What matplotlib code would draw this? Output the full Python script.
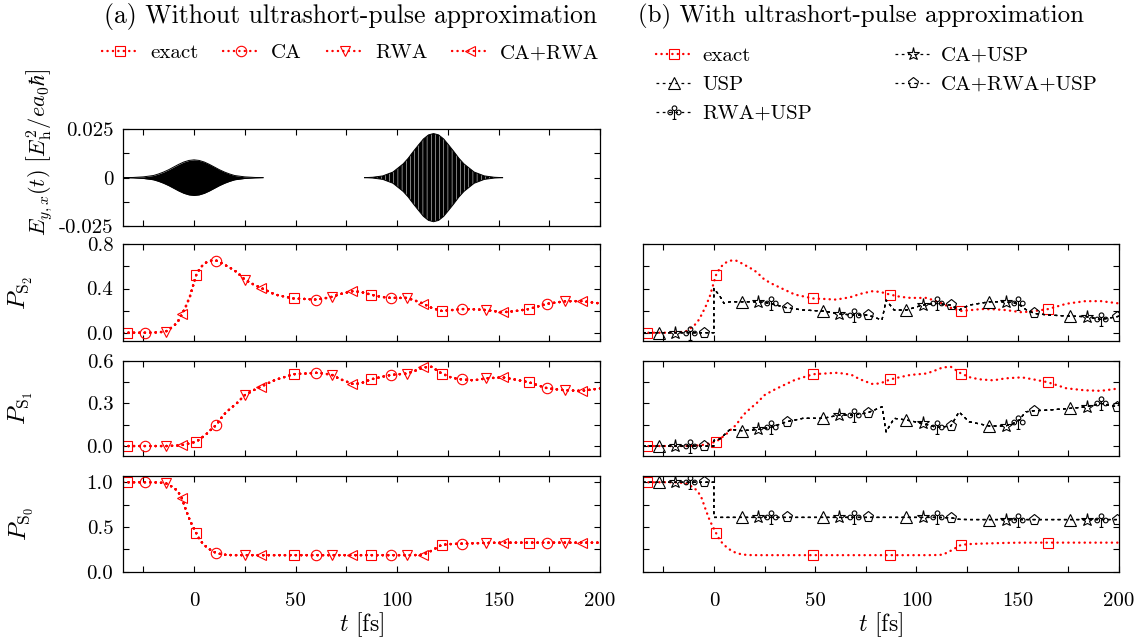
import numpy as np
import matplotlib
matplotlib.use('Agg')
import matplotlib.pyplot as plt
from matplotlib.path import Path

plt.rcParams['font.family'] = 'serif'
plt.rcParams['font.serif'] = ['cmr10']
plt.rcParams['mathtext.fontset'] = 'cm'
plt.rcParams['axes.unicode_minus'] = False
plt.rcParams['hatch.linewidth'] = 0.35

# ---- field envelopes ----
t_p1 = [-35, -30, -25, -20, -17.5, -15, -12.5, -10, -7.5, -5, -2.5, 0,
        2.5, 5, 7.5, 10, 12.5, 15, 17.5, 20, 25, 30, 34]
env_p1 = [0.0, 0.0001, 0.0004, 0.0011, 0.0019, 0.0029, 0.0041, 0.0055, 0.0069,
          0.0081, 0.0089, 0.0092, 0.0089, 0.0081, 0.0069, 0.0055, 0.0041,
          0.0029, 0.0019, 0.0011, 0.0004, 0.0001, 0.0]
t_p2 = [84, 88, 93, 98, 103, 105.5, 108, 110.5, 113, 115.5, 118, 120.5, 123,
        125.5, 128, 130.5, 133, 138, 143, 148, 152]
env_p2 = [0.0, 0.0002, 0.0009, 0.0029, 0.0071, 0.0100, 0.0135, 0.0168, 0.0200,
          0.0221, 0.0228, 0.0221, 0.0200, 0.0168, 0.0135, 0.0100, 0.0071,
          0.0029, 0.0009, 0.0002, 0.0]

# ---- exact populations ----
t_ex = [-35, -33, -24, -18, -14, -10, -8, -6, -4, -2, 1, 3, 5, 7, 9, 11, 13, 15,
        18, 21, 25, 29, 33, 40, 49, 55, 60, 64, 68, 72, 78, 82, 87, 92, 97, 101,
        105, 109, 113, 117, 122, 127, 132, 138, 144, 152, 158, 165, 174, 183,
        191, 200]
ex_S2 = [0.0, 0.0, 0.0, 0.003, 0.01, 0.06, 0.10, 0.165, 0.24, 0.33, 0.52, 0.585,
         0.625, 0.645, 0.655, 0.652, 0.635, 0.615, 0.585, 0.55, 0.48, 0.44,
         0.405, 0.345, 0.31, 0.305, 0.30, 0.31, 0.325, 0.35, 0.375, 0.37, 0.345,
         0.325, 0.315, 0.315, 0.315, 0.29, 0.262, 0.225, 0.197, 0.205, 0.214,
         0.212, 0.205, 0.185, 0.195, 0.214, 0.262, 0.285, 0.286, 0.265]
ex_S1 = [0.0, 0.0, 0.0, 0.0, 0.0, 0.002, 0.004, 0.007, 0.012, 0.02, 0.03, 0.05,
         0.072, 0.095, 0.125, 0.148, 0.19, 0.225, 0.265, 0.30, 0.358, 0.39,
         0.418, 0.465, 0.505, 0.51, 0.515, 0.51, 0.50, 0.47, 0.437, 0.44, 0.468,
         0.485, 0.50, 0.505, 0.51, 0.53, 0.553, 0.557, 0.51, 0.48, 0.468, 0.462,
         0.476, 0.483, 0.468, 0.448, 0.406, 0.392, 0.388, 0.405]
ex_S0 = [1.0, 1.0, 1.0, 0.998, 0.99, 0.94, 0.90, 0.82, 0.69, 0.57, 0.435, 0.35,
         0.30, 0.26, 0.23, 0.21, 0.198, 0.19, 0.186, 0.185, 0.185, 0.185, 0.185,
         0.185, 0.185, 0.185, 0.185, 0.185, 0.185, 0.185, 0.185, 0.185, 0.185,
         0.185, 0.185, 0.185, 0.185, 0.186, 0.19, 0.235, 0.30, 0.31, 0.314,
         0.318, 0.322, 0.325, 0.325, 0.325, 0.325, 0.325, 0.325, 0.325]

# ---- ultrashort-pulse approximation populations ----
t_usp = [-35, -27, -19, -12, -5, 0, 0, 3, 5, 8, 14, 22, 28, 36, 44, 54, 62, 69,
         76, 83, 85, 89, 95, 103, 110, 117, 121, 126, 136, 144, 150, 154, 158,
         165, 176, 184, 191, 199, 200]
usp_S2 = [0, 0, 0, 0, 0, 0, 0.40, 0.33, 0.265, 0.28, 0.28, 0.28, 0.265, 0.225,
          0.205, 0.196, 0.17, 0.16, 0.16, 0.115, 0.295, 0.205, 0.205, 0.25,
          0.265, 0.25, 0.205, 0.25, 0.28, 0.28, 0.265, 0.21, 0.175, 0.16, 0.15,
          0.145, 0.12, 0.145, 0.15]
usp_S1 = [0, 0, 0, 0, 0, 0, 0.04, 0.05, 0.077, 0.117, 0.108, 0.117, 0.131,
          0.171, 0.195, 0.195, 0.218, 0.218, 0.234, 0.276, 0.10, 0.195, 0.183,
          0.16, 0.131, 0.141, 0.24, 0.171, 0.141, 0.141, 0.171, 0.241, 0.248,
          0.253, 0.265, 0.276, 0.30, 0.276, 0.29]
usp_S0 = [1.0, 1.0, 1.0, 1.0, 1.0, 1.0, 0.607, 0.607, 0.607, 0.607, 0.607,
          0.607, 0.607, 0.607, 0.607, 0.607, 0.607, 0.607, 0.607, 0.607, 0.607,
          0.607, 0.607, 0.607, 0.607, 0.603, 0.585, 0.583, 0.583, 0.583, 0.583,
          0.583, 0.583, 0.583, 0.583, 0.583, 0.583, 0.583, 0.583]

# marker times of each series
mk_exact = [-33, 1, 49, 87, 122, 165]
mk_ca = [-24, 11, 60, 97, 132, 174]
mk_rwa = [-14, 25, 68, 105, 144, 183]
mk_carwa = [-6, 33, 78, 113, 152, 191]
mk_usp = [-27, 14, 54, 95, 136, 176]
mk_causp = [-19, 22, 62, 103, 144, 184]
mk_rwausp = [-12, 28, 69, 110, 150, 191]
mk_all = [-5, 36, 76, 117, 158, 199]

# club marker (outlined)
def club_path():
    parts = [Path.circle((0, 0.44), 0.24), Path.circle((-0.44, 0.0), 0.24),
             Path.circle((0.44, 0.0), 0.24),
             Path([(0, 0.2), (0, -0.72), (-0.2, -0.72), (0.2, -0.72)],
                  [Path.MOVETO, Path.LINETO, Path.MOVETO, Path.LINETO])]
    return Path.make_compound_path(*parts)
club = club_path()

def idx(tarr, marks):
    tarr = np.asarray(tarr, dtype=float)
    return [int(np.argmin(np.abs(tarr - m))) for m in marks]

red_ls = dict(color='#ff0000', lw=1.7, ls=(0, (0.1, 2.2)), dash_capstyle='round',
              mfc='none', mec='#ff0000', ms=7.5, mew=0.8)
blk_ls = dict(color='k', lw=0.9, ls=(0, (2.2, 2.8)), mfc='none', mec='k', ms=8,
              mew=0.8)

fig = plt.figure(figsize=(11.41, 6.37), dpi=100)
W, H = 1141.0, 637.0
xl, xr, wl, wr = 123 / W, 643 / W, 477 / W, 476 / W
rows = [(129.3, 226.0), (244.3, 341.0), (360.7, 456.0), (476.0, 571.7)]

def make_ax(x0, w, r):
    top, bot = rows[r]
    return fig.add_axes([x0, 1 - bot / H, w, (bot - top) / H])

xt = np.arange(-25, 201, 25)
xtl = [str(v) if v % 50 == 0 else '' for v in xt]

def style(ax, yt, ytl, ylim, left=True, bottom=False):
    ax.set_xlim(-35, 200)
    ax.set_ylim(*ylim)
    ax.set_xticks(xt)
    ax.set_xticklabels(xtl if bottom else [''] * len(xt))
    ax.set_yticks(yt)
    ax.set_yticklabels(ytl if left else [''] * len(yt))
    ax.tick_params(direction='in', top=True, right=True, length=4, width=0.8,
                   labelsize=15)
    ax.tick_params(axis='y', pad=7)
    ax.tick_params(axis='x', pad=15)
    for s in ax.spines.values():
        s.set_linewidth(0.9)

# field panel
axf = make_ax(xl, wl, 0)
axf.fill_between(t_p1, env_p1, [-v for v in env_p1], color='k', lw=0)
axf.fill_between(t_p2, env_p2, [-v for v in env_p2], facecolor='k',
                 edgecolor='w', hatch='||||', lw=0)
for tt, ee in ((t_p1, env_p1), (t_p2, env_p2)):
    axf.plot(tt, ee, 'k', lw=0.7)
    axf.plot(tt, [-v for v in ee], 'k', lw=0.7)
style(axf, [-0.025, -0.0125, 0, 0.0125, 0.025], ['-0.025', '', '0', '', '0.025'],
      (-0.025, 0.025))

state_data = [(ex_S2, usp_S2, [0, 0.2, 0.4, 0.6, 0.8], ['0.0', '', '0.4', '', '0.8'],
               (-0.075, 0.8), r'$P_{\mathrm{S}_2}$'),
              (ex_S1, usp_S1, [0, 0.15, 0.3, 0.45, 0.6], ['0.0', '', '0.3', '', '0.6'],
               (-0.07, 0.6), r'$P_{\mathrm{S}_1}$'),
              (ex_S0, usp_S0, [0, 0.25, 0.5, 0.75, 1.0], ['0.0', '', '0.5', '', '1.0'],
               (0, 1.07), r'$P_{\mathrm{S}_0}$')]

left_series = [('exact', 's', mk_exact), ('CA', 'o', mk_ca),
               ('RWA', 'v', mk_rwa), ('CA+RWA', '<', mk_carwa)]
usp_series = [('USP', '^', mk_usp), ('RWA+USP', club, mk_rwausp),
              ('CA+USP', '*', mk_causp), ('CA+RWA+USP', 'p', mk_all)]

for r, (ex, usp, yt, ytl, ylim, lab) in enumerate(state_data, start=1):
    axa = make_ax(xl, wl, r)
    for name, m, mk in left_series:
        axa.plot(t_ex, ex, marker=m, markevery=idx(t_ex, mk), label=name, **red_ls)
    style(axa, yt, ytl, ylim, bottom=(r == 3))
    axa.set_ylabel(lab, fontsize=18)
    axa.yaxis.set_label_coords(-0.185, 0.5)
    axb = make_ax(xr, wr, r)
    axb.plot(t_ex, ex, marker='s', markevery=idx(t_ex, mk_exact), label='exact',
             **red_ls)
    for name, m, mk in usp_series:
        ms = 10 if m is club else (9.5 if m == '*' else 8)
        kw = dict(blk_ls)
        kw['ms'] = ms
        axb.plot(t_usp, usp, marker=m, markevery=idx(t_usp, mk), label=name, **kw)
    style(axb, yt, ytl, ylim, left=False, bottom=(r == 3))
    if r == 1:
        ha, la = axa.get_legend_handles_labels()
        hb, lb = axb.get_legend_handles_labels()
    if r == 3:
        axa.set_xlabel(r'$t$ [fs]', fontsize=17, labelpad=0)
        axb.set_xlabel(r'$t$ [fs]', fontsize=17, labelpad=0)

fig.text(-0.175 * wl + xl, 1 - 152 / H,
         r'$E_{y,x}(t)\ \left[E_{\mathrm{h}}^2/ea_0\hbar\right]$',
         rotation=90, ha='center', va='center', fontsize=16)

fig.text(351 / W, 1 - 16 / H, '(a) Without ultrashort-pulse approximation',
         ha='center', va='center', fontsize=18.5)
fig.text(861 / W, 1 - 16 / H, '(b) With ultrashort-pulse approximation',
         ha='center', va='center', fontsize=18)

fig.legend(ha, la, loc='center', bbox_to_anchor=(351 / W, 1 - 53 / H), ncol=4,
           frameon=False, fontsize=15, handlelength=1.7, handletextpad=0.6,
           columnspacing=1.2, borderpad=0)
fig.legend(hb, lb, loc='upper left', bbox_to_anchor=(646 / W, 1 - 36 / H),
           ncol=2, frameon=False, fontsize=15, handlelength=1.7,
           handletextpad=0.5, columnspacing=4.0, labelspacing=0.5, borderpad=0)

fig.savefig('out.png', dpi=100)
